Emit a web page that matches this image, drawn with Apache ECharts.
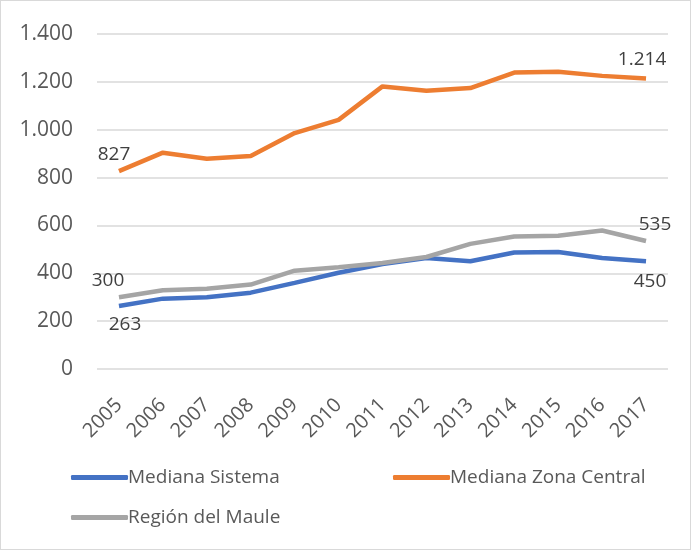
<!DOCTYPE html>
<html>
<head>
<meta charset="utf-8">
<script src="https://cdn.jsdelivr.net/npm/echarts@6/dist/echarts.min.js"></script>
<style>
  html, body { margin: 0; padding: 0; background: #fff; }
  #main { width: 691px; height: 550px; box-sizing: border-box; border: 1px solid #d9d9d9; }
</style>
</head>
<body>
<div id="main"></div>
<script>
// datos
const years = ['2005', '2006', '2007', '2008', '2009', '2010', '2011', '2012', '2013', '2014', '2015', '2016', '2017'];
const medianaSistema = [263, 294, 300, 319, 360, 402, 439, 464, 450, 487, 489, 464, 450];
const medianaZonaCentral = [827, 904, 879, 890, 986, 1041, 1181, 1163, 1174, 1239, 1242, 1225, 1214];
const regionMaule = [300, 329, 335, 353, 411, 425, 443, 468, 523, 554, 557, 579, 535];

const font = 'Open Sans';
const fmt = v => String(v).replace(/\B(?=(\d{3})+(?!\d))/g, '.');

// solo el primer y ultimo punto llevan etiqueta
function ends(arr, first, last) {
  return arr.map((v, i) => {
    if (i === 0) return { value: v, label: Object.assign({ show: true }, first) };
    if (i === arr.length - 1) return { value: v, label: Object.assign({ show: true }, last) };
    return v;
  });
}

const myChart = echarts.init(document.getElementById('main'));
const labelStyle = { fontFamily: font, fontSize: 19, color: '#404040', formatter: p => fmt(p.value) };

const option = {
  animation: false,
  grid: { left: 96, right: 22, top: 33, bottom: 180 },
  xAxis: {
    type: 'category',
    data: years,
    axisLine: { show: false },
    axisTick: { show: false },
    axisLabel: { rotate: 45, fontFamily: font, fontSize: 20, color: '#595959', margin: 33 }
  },
  yAxis: {
    type: 'value',
    min: 0,
    max: 1400,
    interval: 200,
    axisLabel: { fontFamily: font, fontSize: 21, color: '#595959', margin: 24, formatter: fmt },
    splitLine: { lineStyle: { color: '#d9d9d9', width: 1.5 } }
  },
  legend: [
    { left: 70, top: 467, data: ['Mediana Sistema'] },
    { left: 392, top: 467, data: ['Mediana Zona Central'] },
    { left: 70, top: 507, data: ['Región del Maule'] }
  ].map(l => Object.assign(l, {
    icon: 'roundRect', itemWidth: 57, itemHeight: 5, itemGap: 4, padding: 0,
    textStyle: { fontFamily: font, fontSize: 19, color: '#595959', padding: [0, 0, 0, -5] }
  })),
  series: [
    {
      name: 'Mediana Sistema', type: 'line',
      data: ends(medianaSistema, { position: 'bottom', offset: [6, 4] }, { position: 'bottom', offset: [4, 6] }),
      color: '#4472c4', lineStyle: { width: 4.5 }, symbol: 'circle', symbolSize: 0, label: labelStyle
    },
    {
      name: 'Mediana Zona Central', type: 'line',
      data: ends(medianaZonaCentral, { position: 'top', offset: [-5, -2] }, { position: 'top', offset: [-4, -4] }),
      color: '#ed7d31', lineStyle: { width: 4.5 }, symbol: 'circle', symbolSize: 0, label: labelStyle
    },
    {
      name: 'Región del Maule', type: 'line',
      data: ends(regionMaule, { position: 'top', offset: [-11, -2] }, { position: 'top', offset: [9, -2] }),
      color: '#a5a5a5', lineStyle: { width: 4.5 }, symbol: 'circle', symbolSize: 0, label: labelStyle
    }
  ]
};

myChart.setOption(option);
</script>
</body>
</html>
